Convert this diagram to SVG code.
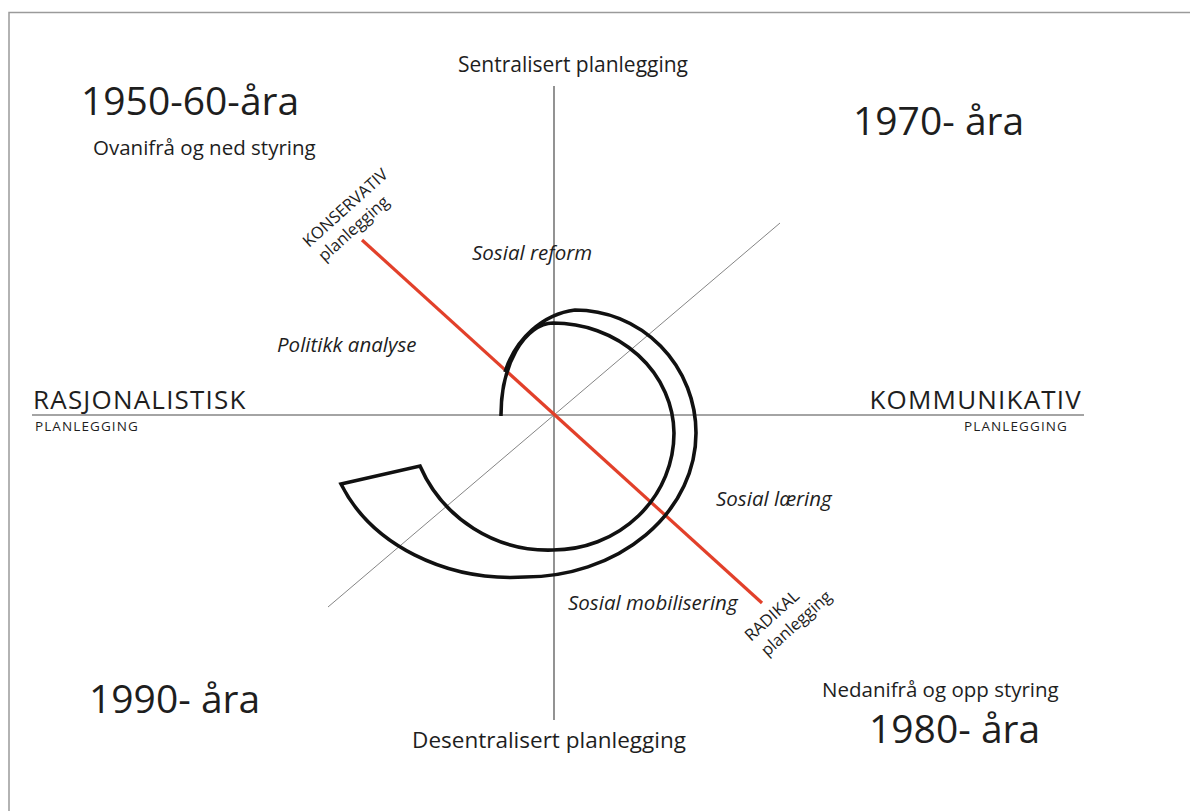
<svg xmlns="http://www.w3.org/2000/svg" width="1190" height="811" viewBox="0 0 1190 811">
<style>
text{font-family:"Open Sans","Liberation Sans",sans-serif;fill:#1e1e1e}
.big{font-size:39px}
.med{font-size:20.5px}
.it{font-size:20.5px;font-style:italic}
.cap{font-size:26px;letter-spacing:1.2px}
.small{font-size:13.5px;letter-spacing:1.1px}
.rot{font-size:16.5px}
.axis{stroke:#4a4a4a;stroke-width:1.2;fill:none}
</style>
<rect width="1190" height="811" fill="#ffffff"/>
<path d="M9 811 V12.5 H1190" fill="none" stroke="#9a9a9a" stroke-width="1.5"/>
<g id="connectors">
<line class="axis" x1="554" y1="86" x2="554" y2="720"/>
<line class="axis" x1="32" y1="415" x2="1084" y2="415"/>
<line x1="328" y1="607" x2="780" y2="223" stroke="#777" stroke-width="0.9"/>
<line x1="362" y1="240" x2="762" y2="603" stroke="#e2402a" stroke-width="3.2"/>
<path id="spiral" d="M501 416 A53 92 0 0 1 553 323 A121 111 0 0 1 674 433 A121 117 0 0 1 553 550 A140 140 0 0 1 420 466 L341 484 A184 150 0 0 0 525 577 A171 144 0 0 0 696 433 A121 123 0 0 0 575 310 A85 95 0 0 0 505 372" fill="none" stroke="#111" stroke-width="3.6" stroke-linejoin="miter"/>
</g>
<g id="q1950"><text class="big" x="81" y="115">1950-60-åra</text>
<text class="med" x="93" y="155">Ovanifrå og ned styring</text></g>
<g id="q1970"><text class="big" x="853" y="135">1970- åra</text></g>
<g id="q1990"><text class="big" x="89" y="713">1990- åra</text></g>
<g id="q1980"><text class="med" x="822" y="697">Nedanifrå og opp styring</text>
<text class="big" x="869" y="743">1980- åra</text></g>
<g id="top"><text x="458" y="72" style="font-size:21px">Sentralisert planlegging</text></g>
<g id="bottom"><text x="549" y="748" text-anchor="middle" style="font-size:22.5px">Desentralisert planlegging</text></g>
<g id="left"><text class="cap" x="33" y="409">RASJONALISTISK</text>
<text class="small" x="35" y="431">PLANLEGGING</text></g>
<g id="right"><text class="cap" x="1082" y="409" text-anchor="end">KOMMUNIKATIV</text>
<text class="small" x="1068" y="431" text-anchor="end">PLANLEGGING</text></g>
<g id="konservativ" transform="translate(309,248) rotate(-42)"><text class="rot" x="0" y="0">KONSERVATIV</text>
<text class="rot" x="2" y="21">planlegging</text></g>
<g id="radikal" transform="translate(751,642) rotate(-42)"><text class="rot" x="0" y="0">RADIKAL</text>
<text class="rot" x="2" y="22">planlegging</text></g>
<g id="labels">
<text class="it" x="472" y="260">Sosial reform</text>
<text class="it" x="277" y="352">Politikk analyse</text>
<text class="it" x="716" y="506">Sosial læring</text>
<text class="it" x="568" y="610">Sosial mobilisering</text>
</g>
</svg>
